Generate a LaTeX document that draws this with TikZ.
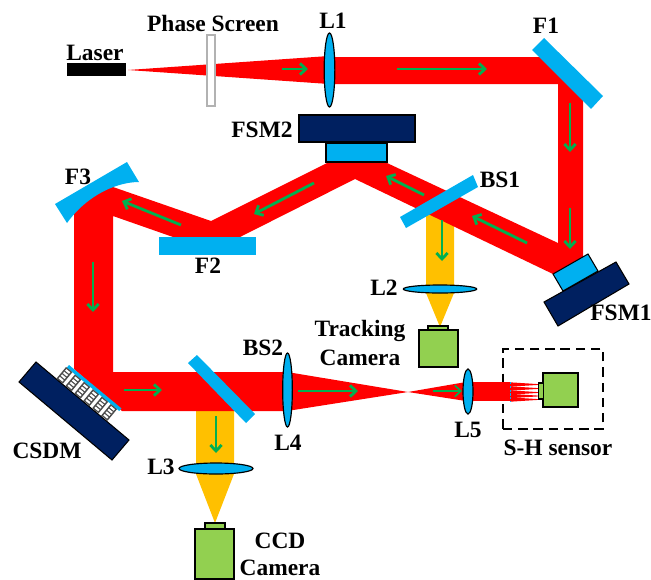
\documentclass[tikz,border=0pt]{standalone}
\usepackage{fontspec}
\setmainfont{Liberation Serif}
\usepackage{xcolor}
\usepackage{tikz}
\usetikzlibrary{arrows.meta,positioning,shapes.geometric}
\definecolor{beamred}{HTML}{FF0000}
\definecolor{beamyellow}{HTML}{FFC000}
\definecolor{glass}{HTML}{00B0F0}
\definecolor{navyplate}{HTML}{002060}
\definecolor{flowgreen}{HTML}{00B050}
\definecolor{camgreen}{HTML}{92D050}
\tikzset{
  beam-red/.style={fill=beamred, draw=none},
  beam-yellow/.style={fill=beamyellow, draw=none},
  optic-plate/.style={fill=glass, draw=none},
  optic-framed/.style={fill=glass, draw=black, line width=0.9pt},
  optic-base/.style={fill=navyplate, draw=black, line width=0.9pt},
  optic-lens/.style={ellipse, fill=glass, draw=black, line width=1pt, inner sep=0pt},
  box-part/.style={rectangle, inner sep=0pt, line width=1pt},
  cam-part/.style={box-part, fill=camgreen, draw=black},
  flow-arrow/.style={draw=flowgreen, line width=2.4pt, -{Straight Barb[length=1.8mm,width=3.4mm]}},
  part-label/.style={font=\fontsize{20}{22}\selectfont\bfseries, inner sep=0pt, align=center}
}
\begin{document}
\begin{tikzpicture}[x=0.03cm, y=-0.03cm]
  \useasboundingbox (0,0) rectangle (651,579);
  \node[box-part, draw=black, dashed, dash pattern=on 8pt off 5pt, minimum width=3cm, minimum height=2.4cm] (shbox) at (553,389) {};
  \fill[beam-yellow] (426,205) -- (454,205) -- (454,289) -- (454,293) -- (440,327) -- (426,293) -- cycle;
  \fill[beam-yellow] (196,405) -- (234,405) -- (234,474) -- (215,523) -- (196,474) -- cycle;
  \fill[beam-red] (128,70) -- (329,56) -- (329,84) -- cycle;
  \fill[beam-red] (329,57) -- (550,57) -- (583,90) -- (583,258) -- (553,274) -- (355,179) -- (240,237) -- (173,237) -- (113,216) -- (113,372) -- (287,372) -- (287,411) -- (122,411) -- (74,369) -- (74,200) -- (113,180) -- (113,187) -- (211,221) -- (327,163) -- (387,163) -- (558,243) -- (558,84) -- (329,84) -- cycle;
  \fill[beam-red] (287,372) -- (408,392) -- (287,411) -- cycle;
  \fill[beam-red] (408,392) -- (466,382) -- (466,401) -- cycle;
  \fill[beam-red] (466,382) rectangle (510,401);
  \foreach \y in {384.5,388.5,392.5,396,399.5}
    \fill[beam-red] (510,\y-2.2) -- (538,\y-0.4) -- (538,\y+0.4) -- (510,\y+2.2) -- cycle;
  \draw[glass, line width=1.2pt, dash pattern=on 2pt off 1.2pt] (510.5,382) -- (510.5,401);
  \node[box-part, draw=black!30, fill=white, minimum width=0.24cm, minimum height=2.13cm] (screen) at (211,70.5) {};
  \node[box-part, fill=black, minimum width=1.77cm, minimum height=0.39cm] (laser) at (96.5,69.5) {};
  \node[optic-lens, minimum width=0.32cm, minimum height=2.22cm] (lensA) at (329.5,70) {};
  \node[optic-lens, minimum width=0.29cm, minimum height=2.22cm] (lensD) at (287.5,390) {};
  \node[optic-lens, minimum width=0.3cm, minimum height=1.35cm] (lensE) at (468,391.5) {};
  \node[optic-lens, minimum width=2.22cm, minimum height=0.33cm] (lensC) at (216,468.5) {};
  \node[optic-lens, minimum width=2.2cm, minimum height=0.24cm] (lensB) at (440,289) {};
  \fill[optic-plate] (532,50) -- (544,38) -- (603,96) -- (591,109) -- cycle;
  \fill[optic-plate] (400,217) -- (473,175) -- (478,187) -- (406,228) -- cycle;
  \fill[optic-plate] (188,363) -- (197,355) -- (255,414) -- (246,423) -- cycle;
  \fill[optic-plate] (55,204) -- (127,162) -- (139,182) .. controls (118,182) and (88,194) .. (67,223) -- cycle;
  \node[box-part, fill=glass, minimum width=2.91cm, minimum height=0.54cm] (flatB) at (207.5,246) {};
  \filldraw[optic-framed] (553,274) -- (588,254) -- (598,271) -- (563,291) -- cycle;
  \filldraw[optic-base] (544,302) -- (616,262) -- (629,284) -- (558,326) -- cycle;
  \node[box-part, draw=black, fill=glass, minimum width=1.83cm, minimum height=0.57cm] (fsmBtop) at (356.5,152.5) {};
  \node[box-part, draw=black, fill=navyplate, minimum width=3.48cm, minimum height=0.81cm] (fsmBbase) at (357,128.5) {};
  \filldraw[optic-base] (19,382) -- (36,362) -- (129,440) -- (112,460) -- cycle;
  \begin{scope}[shift={(69,365)}, rotate=-39.6]
    \fill[optic-plate] (0,0) rectangle (68,3.4);
    \foreach \i in {0,...,5} {
      \fill[black!70] (\i*11.6-1,3.4) rectangle ++(8.2,15);
      \foreach \j in {0,...,3}
        \fill[white] (\i*11.6+0.6,4.8+\j*3.4) rectangle ++(5,2);
    }
  \end{scope}
  \node[cam-part, minimum width=1.17cm, minimum height=1.5cm] (ccdbody) at (214.5,554) {};
  \node[cam-part, minimum width=0.6cm, minimum height=0.18cm] (ccdhead) at (215,526) {};
  \node[cam-part, minimum width=1.17cm, minimum height=1.11cm] (trackbody) at (438.5,348.5) {};
  \node[cam-part, minimum width=0.6cm, minimum height=0.12cm] (trackhead) at (438,328) {};
  \node[cam-part, minimum width=1.05cm, minimum height=1.02cm] (shbody) at (560.5,390) {};
  \node[cam-part, minimum width=0.14cm, minimum height=0.48cm] (shhead) at (541,391) {};
  \draw[flow-arrow] (282,69) -- (308,69);
  \draw[flow-arrow] (397,69) -- (487,69);
  \draw[flow-arrow] (570,103) -- (570,152);
  \draw[flow-arrow] (570,208) -- (570,249);
  \draw[flow-arrow] (527,243) -- (472,216);
  \draw[flow-arrow] (424,195) -- (386,176);
  \draw[flow-arrow] (442,220) -- (442,261);
  \draw[flow-arrow] (314,183) -- (254,214);
  \draw[flow-arrow] (181,225) -- (122,201);
  \draw[flow-arrow] (93,262) -- (93,312);
  \draw[flow-arrow] (124,390) -- (162,390);
  \draw[flow-arrow] (216,416) -- (216,453);
  \draw[flow-arrow] (298,391) -- (358,391);
  \draw[flow-arrow, line width=1.4pt] (433,391) -- (462,391);
  \node[part-label] (laserlabel) at (95,53) {Laser};
  \node[part-label] (screenlabel) at (213,23) {Phase Screen};
  \node[part-label] (lensAlabel) at (333,21) {L1};
  \node[part-label] (flatAlabel) at (546,26) {F1};
  \node[part-label] (fsmBlabel) at (262,130) {FSM2};
  \node[part-label] (splitAlabel) at (500,180) {BS1};
  \node[part-label] (flatClabel) at (78,177) {F3};
  \node[part-label] (flatBlabel) at (208,266) {F2};
  \node[part-label] (lensBlabel) at (384,288) {L2};
  \node[part-label] (tracklabel) at (360,343) {Tracking\\[3pt]Camera};
  \node[part-label] (fsmAlabel) at (621,313) {FSM1};
  \node[part-label] (splitBlabel) at (263,348) {BS2};
  \node[part-label] (csdmlabel) at (47,451) {CSDM};
  \node[part-label] (lensDlabel) at (288,443) {L4};
  \node[part-label] (lensClabel) at (161,467) {L3};
  \node[part-label] (lensElabel) at (468,430) {L5};
  \node[part-label] (shlabel) at (558,448) {S-H sensor};
  \node[part-label] (ccdlabel) at (280,554) {CCD\\[1pt]Camera};
\end{tikzpicture}
\end{document}
